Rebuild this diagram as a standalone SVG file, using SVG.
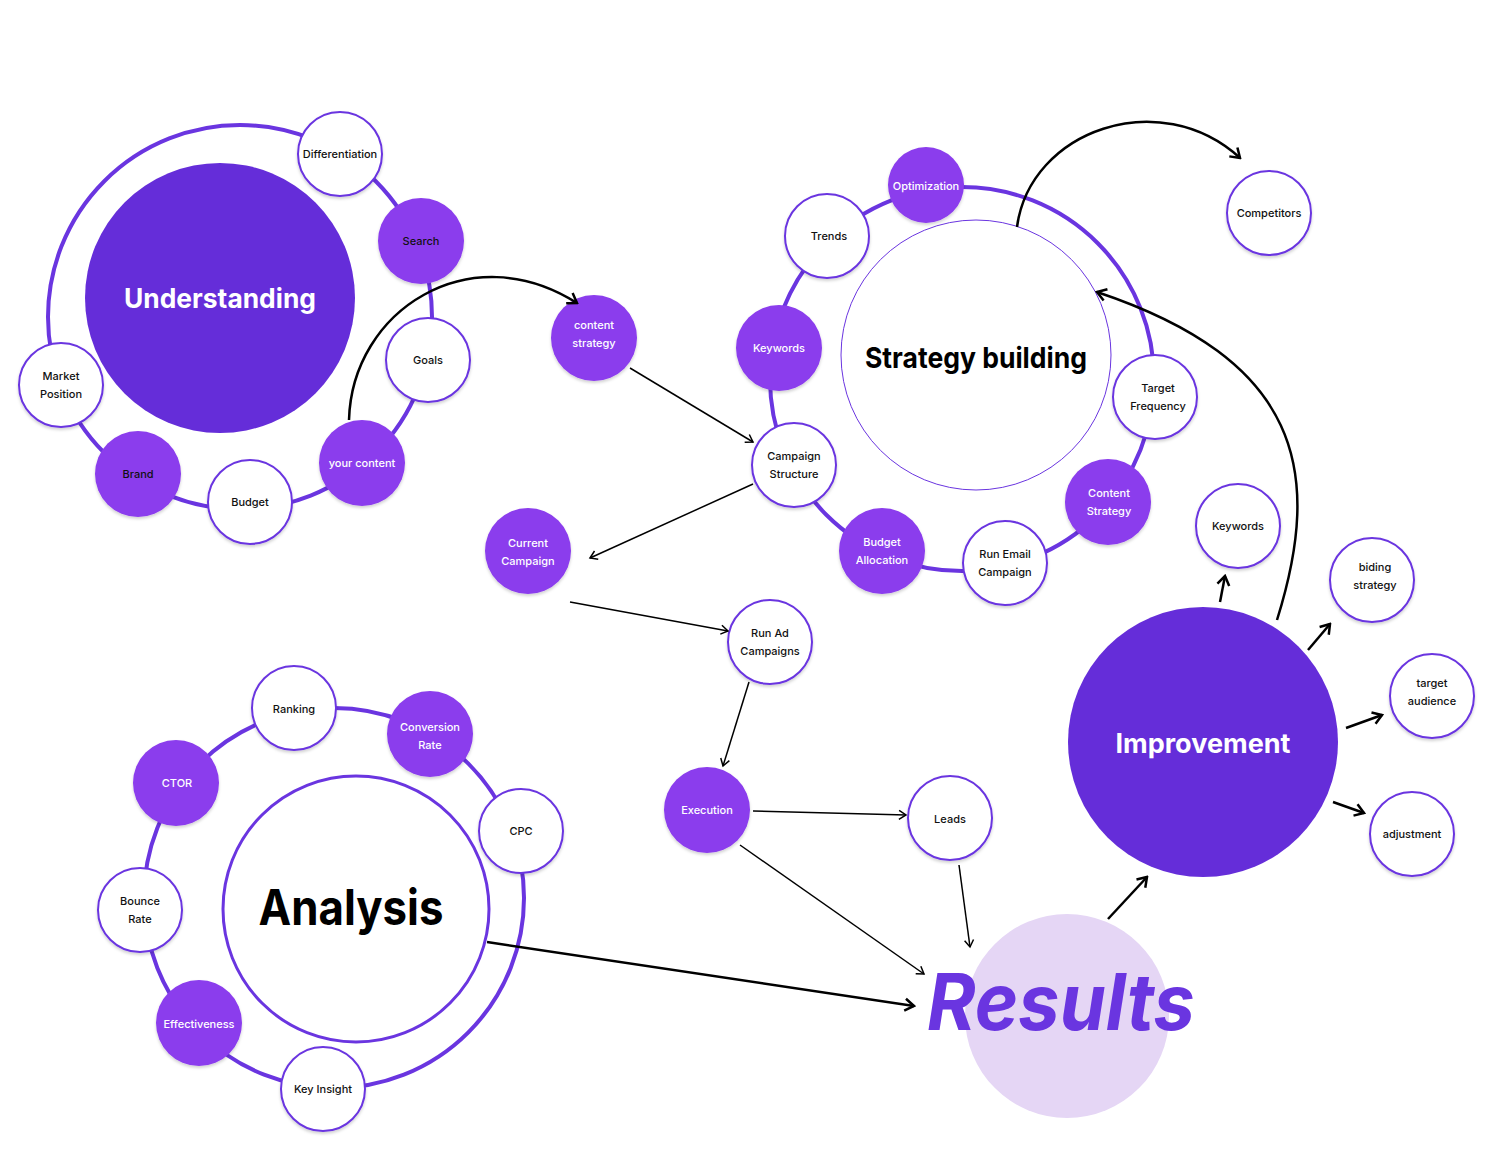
<svg xmlns="http://www.w3.org/2000/svg" width="1491" height="1151" viewBox="0 0 1491 1151">
<style>
text{font-family:Inter,"Liberation Sans",sans-serif}
.ring{fill:none;stroke:#6a35e0;stroke-width:4}
.wn{fill:#fff;stroke:#6a35e0;stroke-width:2;filter:url(#sh)}
.fn{fill:#8b3ded;filter:url(#sh)}
.big{fill:#652dd9}
.lb{font-size:11px;font-weight:500;fill:#111;text-anchor:middle}
.lw{font-size:11px;font-weight:500;fill:#fff;text-anchor:middle}
.hd{font-weight:700;text-anchor:middle}
.thin{fill:none;stroke:#000;stroke-width:1.5;marker-end:url(#ah)}
.thick{fill:none;stroke:#000;stroke-width:2.5;marker-end:url(#ahb)}
</style>
<defs>
<filter id="sh" x="-30%" y="-30%" width="160%" height="160%">
<feDropShadow dx="0" dy="2" stdDeviation="1.5" flood-color="#000" flood-opacity="0.18"/>
</filter>
<marker id="ah" viewBox="-10 -6 12 12" refX="0" refY="0" markerWidth="12" markerHeight="12" markerUnits="userSpaceOnUse" orient="auto">
<path d="M-7,-4.5 L0,0 L-7,4.5" fill="none" stroke="#000" stroke-width="1.5"/>
</marker>
<marker id="ahb" viewBox="-12 -8 14 16" refX="0" refY="0" markerWidth="14" markerHeight="16" markerUnits="userSpaceOnUse" orient="auto">
<path d="M-9,-6 L0,0 L-9,6" fill="none" stroke="#000" stroke-width="2.5"/>
</marker>
</defs>
<rect width="1491" height="1151" fill="#fff"/>

<!-- rings -->
<g id="rings">
<circle class="ring" cx="240" cy="317" r="192"/>
<circle class="ring" cx="962" cy="379" r="192"/>
<circle class="ring" cx="334" cy="898" r="190"/>
</g>

<!-- Understanding cluster -->
<g id="understanding">
<circle class="big" cx="220" cy="298" r="135"/>
<text class="hd" x="220" y="308" font-size="27" fill="#fff" textLength="192" lengthAdjust="spacingAndGlyphs">Understanding</text>
</g>
<g id="differentiation"><circle class="wn" cx="340" cy="154" r="42"/><text class="lb" x="340" y="158">Differentiation</text></g>
<g id="search"><circle class="fn" cx="421" cy="241" r="43"/><text class="lb" x="421" y="245">Search</text></g>
<g id="goals"><circle class="wn" cx="428" cy="360" r="42"/><text class="lb" x="428" y="364">Goals</text></g>
<g id="your-content"><circle class="fn" cx="362" cy="463" r="43"/><text class="lw" x="362" y="467">your content</text></g>
<g id="budget"><circle class="wn" cx="250" cy="502" r="42"/><text class="lb" x="250" y="506">Budget</text></g>
<g id="brand"><circle class="fn" cx="138" cy="474" r="43"/><text class="lb" x="138" y="478">Brand</text></g>
<g id="market-position"><circle class="wn" cx="61" cy="385" r="42"/><text class="lb" x="61" y="380">Market</text><text class="lb" x="61" y="398">Position</text></g>

<!-- Strategy building cluster -->
<g id="strategy-building">
<circle cx="976" cy="355" r="135" fill="#fff" stroke="#6a35e0" stroke-width="1"/>
<text class="hd" x="976" y="368" font-size="29" fill="#000" textLength="222" lengthAdjust="spacingAndGlyphs">Strategy building</text>
</g>
<g id="optimization"><circle class="fn" cx="926" cy="185" r="38"/><text class="lw" x="926" y="190">Optimization</text></g>
<g id="trends"><circle class="wn" cx="827" cy="236" r="42"/><text class="lb" x="829" y="240">Trends</text></g>
<g id="keywords-sb"><circle class="fn" cx="779" cy="348" r="43"/><text class="lw" x="779" y="352">Keywords</text></g>
<g id="campaign-structure"><circle class="wn" cx="794" cy="465" r="42"/><text class="lb" x="794" y="460">Campaign</text><text class="lb" x="794" y="478">Structure</text></g>
<g id="budget-allocation"><circle class="fn" cx="882" cy="551" r="43"/><text class="lw" x="882" y="546">Budget</text><text class="lw" x="882" y="564">Allocation</text></g>
<g id="run-email-campaign"><circle class="wn" cx="1005" cy="563" r="42"/><text class="lb" x="1005" y="558">Run Email</text><text class="lb" x="1005" y="576">Campaign</text></g>
<g id="content-strategy-sb"><circle class="fn" cx="1108" cy="502" r="43"/><text class="lw" x="1109" y="497">Content</text><text class="lw" x="1109" y="515">Strategy</text></g>
<g id="target-frequency"><circle class="wn" cx="1155" cy="397" r="42"/><text class="lb" x="1158" y="392">Target</text><text class="lb" x="1158" y="410">Frequency</text></g>
<g id="competitors"><circle class="wn" cx="1269" cy="213" r="42"/><text class="lb" x="1269" y="217">Competitors</text></g>

<!-- middle flow -->
<g id="content-strategy"><circle class="fn" cx="594" cy="338" r="43"/><text class="lw" x="594" y="329">content</text><text class="lw" x="594" y="347">strategy</text></g>
<g id="current-campaign"><circle class="fn" cx="528" cy="551" r="43"/><text class="lw" x="528" y="547">Current</text><text class="lw" x="528" y="565">Campaign</text></g>
<g id="run-ad-campaigns"><circle class="wn" cx="770" cy="642" r="42"/><text class="lb" x="770" y="637">Run Ad</text><text class="lb" x="770" y="655">Campaigns</text></g>
<g id="execution"><circle class="fn" cx="707" cy="810" r="43"/><text class="lw" x="707" y="814">Execution</text></g>
<g id="leads"><circle class="wn" cx="950" cy="818" r="42"/><text class="lb" x="950" y="823">Leads</text></g>

<!-- Analysis cluster -->
<g id="analysis">
<circle cx="356" cy="909" r="133" fill="#fff" stroke="#6a35e0" stroke-width="3"/>
<text class="hd" x="351" y="925" font-size="49" fill="#000" textLength="185" lengthAdjust="spacingAndGlyphs">Analysis</text>
</g>
<g id="ranking"><circle class="wn" cx="294" cy="708" r="42"/><text class="lb" x="294" y="713">Ranking</text></g>
<g id="conversion-rate"><circle class="fn" cx="430" cy="734" r="43"/><text class="lw" x="430" y="731">Conversion</text><text class="lw" x="430" y="749">Rate</text></g>
<g id="cpc"><circle class="wn" cx="521" cy="831" r="42"/><text class="lb" x="521" y="835">CPC</text></g>
<g id="ctor"><circle class="fn" cx="176" cy="783" r="43"/><text class="lw" x="177" y="787">CTOR</text></g>
<g id="bounce-rate"><circle class="wn" cx="140" cy="910" r="42"/><text class="lb" x="140" y="905">Bounce</text><text class="lb" x="140" y="923">Rate</text></g>
<g id="effectiveness"><circle class="fn" cx="199" cy="1023" r="43"/><text class="lw" x="199" y="1028">Effectiveness</text></g>
<g id="key-insight"><circle class="wn" cx="323" cy="1089" r="42"/><text class="lb" x="323" y="1093">Key Insight</text></g>

<!-- Results -->
<g id="results">
<circle cx="1067" cy="1016" r="102" fill="#e5d6f5"/>
<text x="1061" y="1030" font-size="78" font-weight="700" font-style="italic" fill="#6a35e0" text-anchor="middle" textLength="268" lengthAdjust="spacingAndGlyphs">Results</text>
</g>

<!-- Improvement cluster -->
<g id="improvement">
<circle class="big" cx="1203" cy="742" r="135"/>
<text class="hd" x="1203" y="753" font-size="27" fill="#fff" textLength="175" lengthAdjust="spacingAndGlyphs">Improvement</text>
</g>
<g id="keywords-imp"><circle class="wn" cx="1238" cy="526" r="42"/><text class="lb" x="1238" y="530">Keywords</text></g>
<g id="biding-strategy"><circle class="wn" cx="1372" cy="580" r="42"/><text class="lb" x="1375" y="571">biding</text><text class="lb" x="1375" y="589">strategy</text></g>
<g id="target-audience"><circle class="wn" cx="1432" cy="696" r="42"/><text class="lb" x="1432" y="687">target</text><text class="lb" x="1432" y="705">audience</text></g>
<g id="adjustment"><circle class="wn" cx="1412" cy="834" r="42"/><text class="lb" x="1412" y="838">adjustment</text></g>

<!-- connectors -->
<g id="connectors">
<path class="thick" d="M349,420 C352,310 470,235 577,303"/>
<path class="thick" d="M1017,227 C1030,130 1160,85 1240,158"/>
<path class="thick" d="M1277,620 C1324,470 1300,360 1097,292"/>
<path class="thin" d="M630,368 L753,442"/>
<path class="thin" d="M753,484 L590,558"/>
<path class="thin" d="M570,602 L728,631"/>
<path class="thin" d="M749,682 L723,766"/>
<path class="thin" d="M753,811 L906,815"/>
<path class="thin" d="M740,845 L924,974"/>
<path class="thin" d="M959,865 L970,947"/>
<path class="thick" d="M487,942 L914,1006"/>
<path class="thick" d="M1108,919 L1147,877"/>
<path class="thick" d="M1220,602 L1225,576"/>
<path class="thick" d="M1308,650 L1330,624"/>
<path class="thick" d="M1346,728 L1382,715"/>
<path class="thick" d="M1333,802 L1364,813"/>
</g>
</svg>
